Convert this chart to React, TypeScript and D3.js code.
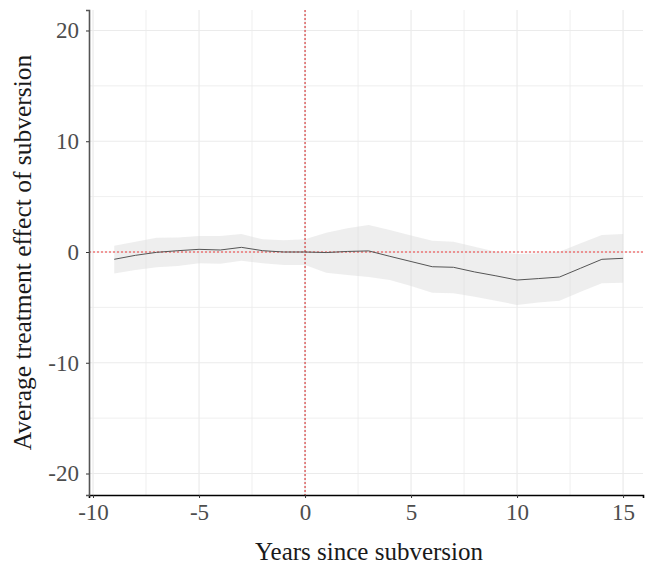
import { useEffect, useRef } from 'react';
import * as d3 from 'd3';

// event-study estimates
const YEARS = [-9, -8, -7, -6, -5, -4, -3, -2, -1, 0, 1, 2, 3, 4, 5, 6, 7, 8, 9, 10, 11, 12, 13, 14, 15];
const ESTIMATE = [-0.66, -0.3, -0.03, 0.12, 0.24, 0.18, 0.42, 0.12, 0, 0, -0.05, 0.05, 0.1, -0.39, -0.86, -1.33, -1.38, -1.8, -2.15, -2.53, -2.4, -2.26, -1.46, -0.66, -0.57];
const UPPER = [0.57, 0.93, 1.29, 1.32, 1.44, 1.44, 1.62, 1.15, 1.05, 1.15, 1.74, 2.14, 2.43, 1.99, 1.5, 1.02, 0.93, 0.48, 0.03, -0.18, -0.12, 0.03, 0.78, 1.53, 1.62];
const LOWER = [-1.93, -1.63, -1.38, -1.26, -1.02, -1.05, -0.78, -1.02, -1.17, -1.17, -1.87, -2.08, -2.26, -2.53, -3.07, -3.67, -3.73, -4.03, -4.4, -4.79, -4.57, -4.4, -3.58, -2.83, -2.77];

const X_TICKS = [-10, -5, 0, 5, 10, 15];
const X_MINOR = [-7.5, -2.5, 2.5, 7.5, 12.5];
const Y_TICKS = [-20, -10, 0, 10, 20];
const Y_MINOR = [-15, -5, 5, 15];

const FONT = '"Liberation Serif", "DejaVu Serif", serif';

export default function App() {
  const svgRef = useRef<SVGSVGElement>(null);

  useEffect(() => {
    const svgEl = svgRef.current;
    if (!svgEl) return;
    const width = 645;
    const height = 567;
    const margin = { top: 10, right: 2, bottom: 72, left: 89 };
    const svg = d3.select(svgEl).attr('viewBox', `0 0 ${width} ${height}`);
    svg.selectAll('*').remove();

    const x = d3.scaleLinear().domain([-10.19, 15.94]).range([margin.left, width - margin.right]);
    const y = d3.scaleLinear().domain([-21.94, 21.85]).range([height - margin.bottom, margin.top]);
    const [x0, x1] = x.range();
    const [y0, y1] = y.range();

    const pts = YEARS.map((t, i) => ({ t, est: ESTIMATE[i], lo: LOWER[i], hi: UPPER[i] }));

    // Grid
    const grid = svg.append('g').attr('stroke', '#ebebeb');
    grid.selectAll('.gx-minor').data(X_MINOR).join('line')
      .attr('x1', (d) => x(d)).attr('x2', (d) => x(d)).attr('y1', y1).attr('y2', y0).attr('stroke-width', 0.8);
    grid.selectAll('.gy-minor').data(Y_MINOR).join('line')
      .attr('y1', (d) => y(d)).attr('y2', (d) => y(d)).attr('x1', x0).attr('x2', x1).attr('stroke-width', 0.8);
    grid.selectAll('.gx').data(X_TICKS).join('line')
      .attr('x1', (d) => x(d)).attr('x2', (d) => x(d)).attr('y1', y1).attr('y2', y0).attr('stroke-width', 1.2);
    grid.selectAll('.gy').data(Y_TICKS).join('line')
      .attr('y1', (d) => y(d)).attr('y2', (d) => y(d)).attr('x1', x0).attr('x2', x1).attr('stroke-width', 1.2);

    // Confidence band
    svg.append('path').datum(pts)
      .attr('fill', '#d9d9d9').attr('fill-opacity', 0.45)
      .attr('d', d3.area<typeof pts[0]>().x((d) => x(d.t)).y0((d) => y(d.lo)).y1((d) => y(d.hi)));

    // Reference lines
    svg.append('line').attr('x1', x0).attr('x2', x1).attr('y1', y(0)).attr('y2', y(0))
      .attr('stroke', '#ee3b3b').attr('stroke-width', 1.2).attr('stroke-dasharray', '2 2');
    svg.append('line').attr('x1', x(0)).attr('x2', x(0)).attr('y1', y1).attr('y2', y0)
      .attr('stroke', '#d43030').attr('stroke-width', 1.1).attr('stroke-dasharray', '2 2');

    // Estimate line
    svg.append('path').datum(pts)
      .attr('fill', 'none').attr('stroke', '#555555').attr('stroke-width', 1)
      .attr('d', d3.line<typeof pts[0]>().x((d) => x(d.t)).y((d) => y(d.est)));

    // Axes
    const xAxis = svg.append('g').attr('transform', `translate(0,${y0})`)
      .call(d3.axisBottom(x).tickValues(X_TICKS).tickSize(3).tickPadding(6).tickFormat((d) => `${d}`));
    xAxis.select('.domain').attr('stroke', '#000').attr('stroke-width', 1.6);
    xAxis.selectAll('.tick line').attr('stroke', '#333');
    xAxis.selectAll('text').attr('font-family', FONT).attr('font-size', 23).attr('fill', '#4d4d4d');

    const yAxis = svg.append('g').attr('transform', `translate(${x0},0)`)
      .call(d3.axisLeft(y).tickValues(Y_TICKS).tickSize(3).tickPadding(7).tickFormat((d) => `${d}`));
    yAxis.select('.domain').attr('stroke', '#555').attr('stroke-width', 1.6);
    yAxis.selectAll('.tick line').attr('stroke', '#333');
    yAxis.selectAll('text').attr('font-family', FONT).attr('font-size', 23).attr('fill', '#4d4d4d');

    // Axis titles
    svg.append('text').attr('x', (x0 + x1) / 2 + 3).attr('y', height - 7)
      .attr('text-anchor', 'middle').attr('font-family', FONT).attr('font-size', 25).attr('fill', '#1a1a1a')
      .text('Years since subversion');
    svg.append('text').attr('transform', 'rotate(-90)').attr('x', -(y0 + y1) / 2).attr('y', 31)
      .attr('text-anchor', 'middle').attr('font-family', FONT).attr('font-size', 25.5).attr('fill', '#1a1a1a')
      .text('Average treatment effect of subversion');
  }, []);

  return (
    <div style={{ position: 'absolute', left: 0, top: 0, width: 645, height: 567, background: '#fff' }}>
      <svg ref={svgRef} width={645} height={567} style={{ display: 'block' }} />
    </div>
  );
}
